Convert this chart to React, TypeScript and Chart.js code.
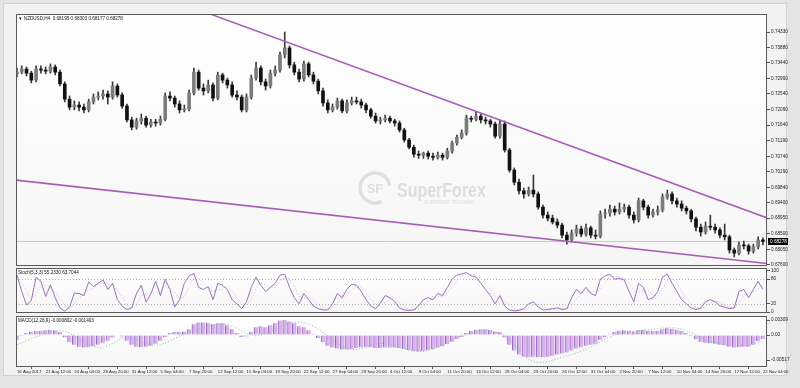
import React, { useEffect, useRef } from 'react';
import { Chart, registerables } from 'chart.js';
Chart.register(...registerables);

const FONT = "'Liberation Sans', Arial, sans-serif";

const symbolTitle = '\u25BC NZDUSD,H4  0.68195 0.68303 0.68177 0.68278';
const stochTitle = 'Stoch(5,3,3) 55.2330 63.7044';
const macdTitle = 'MACD(12,26,9) -0.000802 -0.001403';

const timeLabels = [
  '16 Aug 2017', '21 Aug 12:00', '24 Aug 04:00', '28 Aug 20:00', '31 Aug 12:00', '5 Sep 04:00',
  '7 Sep 20:00', '12 Sep 12:00', '15 Sep 04:00', '19 Sep 20:00', '22 Sep 12:00', '27 Sep 04:00',
  '29 Sep 20:00', '4 Oct 12:00', '9 Oct 04:00', '11 Oct 20:00', '16 Oct 12:00', '19 Oct 04:00',
  '23 Oct 20:00', '26 Oct 12:00', '31 Oct 04:00', '2 Nov 20:00', '7 Nov 12:00', '10 Nov 04:00',
  '14 Nov 20:00', '17 Nov 12:00', '22 Nov 04:00',
];
const labelEvery = 6;

const priceTicks = [
  0.7433, 0.7388, 0.7344, 0.7299, 0.7254, 0.7209, 0.7164, 0.7119,
  0.7074, 0.7029, 0.6984, 0.694, 0.6895, 0.685, 0.6805, 0.676,
];
const lastPrice = 0.68278;

// [open, high, low, close]
const ohlc: [number, number, number, number][] = [
  [0.7312,0.7329,0.7303,0.7317],[0.7317,0.7335,0.7312,0.7326],[0.7326,0.7332,0.7306,0.7314],[0.7314,0.7320,0.7286,0.7294],[0.7294,0.7335,0.7289,0.7326],[0.7326,0.7335,0.7314,0.7323],[0.7323,0.7332,0.7312,0.7320],[0.7320,0.7341,0.7314,0.7332],[0.7332,0.7338,0.7309,0.7317],[0.7317,0.7323,0.7277,0.7283],
  [0.7283,0.7289,0.7231,0.7239],[0.7239,0.7248,0.7208,0.7216],[0.7216,0.7234,0.7208,0.7222],[0.7222,0.7231,0.7205,0.7216],[0.7216,0.7225,0.7199,0.7208],[0.7208,0.7239,0.7202,0.7231],[0.7231,0.7254,0.7225,0.7245],[0.7245,0.7260,0.7237,0.7248],[0.7248,0.7265,0.7239,0.7254],[0.7254,0.7263,0.7225,0.7245],
  [0.7245,0.7289,0.7239,0.7277],[0.7277,0.7283,0.7245,0.7251],[0.7251,0.7257,0.7213,0.7219],[0.7219,0.7225,0.7173,0.7179],[0.7179,0.7187,0.7150,0.7158],[0.7158,0.7184,0.7152,0.7176],[0.7176,0.7196,0.7167,0.7184],[0.7184,0.7190,0.7158,0.7164],[0.7164,0.7181,0.7158,0.7173],[0.7173,0.7181,0.7161,0.7170],
  [0.7170,0.7190,0.7164,0.7181],[0.7181,0.7257,0.7176,0.7248],[0.7248,0.7260,0.7234,0.7242],[0.7242,0.7248,0.7216,0.7225],[0.7225,0.7234,0.7199,0.7208],[0.7208,0.7222,0.7202,0.7210],[0.7210,0.7265,0.7205,0.7257],[0.7257,0.7329,0.7251,0.7317],[0.7317,0.7323,0.7265,0.7271],[0.7271,0.7283,0.7251,0.7263],
  [0.7263,0.7294,0.7257,0.7280],[0.7280,0.7286,0.7234,0.7242],[0.7242,0.7317,0.7237,0.7309],[0.7309,0.7314,0.7286,0.7294],[0.7294,0.7300,0.7271,0.7280],[0.7280,0.7289,0.7245,0.7251],[0.7251,0.7263,0.7237,0.7245],[0.7245,0.7251,0.7202,0.7208],[0.7208,0.7254,0.7202,0.7245],[0.7245,0.7309,0.7239,0.7300],
  [0.7300,0.7346,0.7294,0.7329],[0.7329,0.7335,0.7280,0.7289],[0.7289,0.7297,0.7265,0.7277],[0.7277,0.7323,0.7271,0.7314],[0.7314,0.7335,0.7306,0.7323],[0.7323,0.7375,0.7317,0.7367],[0.7367,0.7433,0.7358,0.7387],[0.7387,0.7393,0.7329,0.7338],[0.7338,0.7346,0.7309,0.7317],[0.7317,0.7326,0.7289,0.7297],
  [0.7297,0.7349,0.7291,0.7341],[0.7341,0.7346,0.7303,0.7309],[0.7309,0.7317,0.7283,0.7291],[0.7291,0.7297,0.7254,0.7263],[0.7263,0.7271,0.7219,0.7228],[0.7228,0.7237,0.7199,0.7208],[0.7208,0.7225,0.7202,0.7216],[0.7216,0.7242,0.7210,0.7234],[0.7234,0.7239,0.7199,0.7205],[0.7205,0.7237,0.7199,0.7228],
  [0.7228,0.7245,0.7222,0.7234],[0.7234,0.7245,0.7225,0.7231],[0.7231,0.7239,0.7213,0.7222],[0.7222,0.7228,0.7199,0.7208],[0.7208,0.7213,0.7184,0.7190],[0.7190,0.7199,0.7170,0.7176],[0.7176,0.7187,0.7167,0.7179],[0.7179,0.7193,0.7173,0.7184],[0.7184,0.7190,0.7170,0.7176],[0.7176,0.7181,0.7161,0.7170],
  [0.7170,0.7176,0.7144,0.7150],[0.7150,0.7155,0.7115,0.7121],[0.7121,0.7126,0.7095,0.7100],[0.7100,0.7106,0.7071,0.7080],[0.7080,0.7089,0.7068,0.7077],[0.7077,0.7086,0.7068,0.7083],[0.7083,0.7089,0.7066,0.7074],[0.7074,0.7083,0.7063,0.7071],[0.7071,0.7086,0.7066,0.7077],[0.7077,0.7083,0.7063,0.7071],
  [0.7071,0.7097,0.7066,0.7089],[0.7089,0.7118,0.7083,0.7112],[0.7112,0.7135,0.7106,0.7129],[0.7129,0.7150,0.7124,0.7141],[0.7141,0.7193,0.7135,0.7184],[0.7184,0.7190,0.7173,0.7181],[0.7181,0.7202,0.7176,0.7190],[0.7190,0.7196,0.7170,0.7179],[0.7179,0.7187,0.7167,0.7176],[0.7176,0.7181,0.7158,0.7167],
  [0.7167,0.7173,0.7126,0.7132],[0.7132,0.7179,0.7126,0.7167],[0.7167,0.7176,0.7086,0.7092],[0.7092,0.7097,0.7028,0.7034],[0.7034,0.7040,0.6991,0.6999],[0.6999,0.7008,0.6965,0.6974],[0.6974,0.6982,0.6953,0.6965],[0.6965,0.6985,0.6959,0.6976],[0.6976,0.7020,0.6956,0.6965],[0.6965,0.6971,0.6921,0.6927],
  [0.6927,0.6933,0.6895,0.6904],[0.6904,0.6913,0.6887,0.6895],[0.6895,0.6904,0.6878,0.6884],[0.6884,0.6893,0.6867,0.6875],[0.6875,0.6881,0.6838,0.6846],[0.6846,0.6855,0.6820,0.6832],[0.6832,0.6861,0.6826,0.6852],[0.6852,0.6875,0.6843,0.6864],[0.6864,0.6872,0.6841,0.6849],[0.6849,0.6878,0.6843,0.6867],
  [0.6867,0.6872,0.6838,0.6846],[0.6846,0.6861,0.6835,0.6843],[0.6843,0.6916,0.6838,0.6907],[0.6907,0.6921,0.6895,0.6910],[0.6910,0.6933,0.6901,0.6921],[0.6921,0.6930,0.6904,0.6913],[0.6913,0.6939,0.6907,0.6921],[0.6921,0.6936,0.6913,0.6927],[0.6927,0.6933,0.6895,0.6904],[0.6904,0.6913,0.6881,0.6890],
  [0.6890,0.6953,0.6884,0.6945],[0.6945,0.6950,0.6919,0.6927],[0.6927,0.6933,0.6895,0.6904],[0.6904,0.6921,0.6898,0.6913],[0.6913,0.6930,0.6904,0.6919],[0.6919,0.6965,0.6913,0.6956],[0.6956,0.6976,0.6950,0.6965],[0.6965,0.6971,0.6936,0.6945],[0.6945,0.6953,0.6927,0.6936],[0.6936,0.6945,0.6916,0.6924],
  [0.6924,0.6930,0.6907,0.6916],[0.6916,0.6921,0.6884,0.6893],[0.6893,0.6898,0.6858,0.6869],[0.6869,0.6878,0.6843,0.6855],[0.6855,0.6884,0.6849,0.6872],[0.6872,0.6904,0.6861,0.6869],[0.6869,0.6878,0.6852,0.6861],[0.6861,0.6867,0.6838,0.6846],[0.6846,0.6878,0.6832,0.6841],[0.6841,0.6846,0.6794,0.6803],
  [0.6803,0.6809,0.6783,0.6794],[0.6794,0.6826,0.6789,0.6817],[0.6817,0.6829,0.6806,0.6815],[0.6815,0.6820,0.6791,0.6800],[0.6800,0.6820,0.6794,0.6812],[0.6812,0.6841,0.6806,0.6832],[0.6832,0.6838,0.6818,0.6828],
];

// trend lines: [bar index, price]
const upperTrend = [{ x: 40, y: 0.7487 }, { x: 157, y: 0.6895 }];
const lowerTrend = [{ x: -0.2, y: 0.7005 }, { x: 156.85, y: 0.6764 }];

const stochMain = [
  90,50,17,28,85,75,38,66,35,10,
  2,12,46,45,40,73,62,70,78,55,
  70,30,14,6,10,45,65,24,44,75,
  40,80,55,12,30,70,88,94,60,55,
  62,30,70,65,55,30,20,8,25,60,
  85,65,50,60,70,90,92,60,35,20,
  45,30,15,8,5,5,20,45,35,55,
  68,65,50,30,15,8,22,40,35,25,
  10,5,4,5,15,30,35,30,45,40,
  60,80,90,93,96,88,85,70,55,40,
  20,40,15,5,3,4,8,20,25,12,
  5,6,8,10,6,8,35,55,45,60,
  45,40,80,88,92,80,82,78,50,25,
  70,60,30,35,50,85,92,70,50,30,
  20,10,6,10,25,30,25,15,12,8,
  10,50,55,35,55,75,55,
];
const stochSignal = [
  80,72,52,32,43,63,66,60,46,37,
  16,8,20,34,44,53,58,68,70,68,
  68,52,38,17,10,20,40,45,44,48,
  53,65,58,49,32,37,63,84,81,70,
  59,49,54,55,63,50,35,19,18,31,
  57,70,67,58,60,73,84,81,62,38,
  33,32,30,18,9,6,10,23,33,45,
  53,63,61,48,32,18,15,23,32,33,
  23,13,6,5,8,17,27,32,37,38,
  48,60,77,88,93,92,90,81,70,55,
  38,33,25,20,8,4,5,11,18,19,
  14,8,6,8,8,8,16,33,45,53,
  50,48,55,70,87,87,85,80,70,51,
  48,52,53,42,38,57,76,82,71,50,
  33,20,12,9,14,22,27,23,17,12,
  10,23,38,47,48,57,64,
];
const stochLevels = [20, 80];
const stochTicks = [100, 80, 20, 0];

const macdHist = [
  -0.0010,-0.0002,0.0004,0.0006,0.0008,0.0009,0.0010,0.0011,0.0010,0.0006,
  -0.0005,-0.0015,-0.0020,-0.0024,-0.0026,-0.0025,-0.0023,-0.0020,-0.0016,-0.0012,
  -0.0005,0.0001,-0.0003,-0.0012,-0.0020,-0.0024,-0.0025,-0.0024,-0.0022,-0.0018,
  -0.0012,-0.0004,0.0004,0.0006,0.0006,0.0007,0.0012,0.0022,0.0026,0.0026,
  0.0025,0.0022,0.0024,0.0024,0.0020,0.0012,0.0004,-0.0004,-0.0003,0.0006,
  0.0016,0.0018,0.0016,0.0020,0.0024,0.0030,0.0031,0.0028,0.0024,0.0018,
  0.0016,0.0010,0.0002,-0.0006,-0.0015,-0.0022,-0.0026,-0.0028,-0.0030,-0.0030,
  -0.0029,-0.0027,-0.0025,-0.0024,-0.0025,-0.0027,-0.0027,-0.0026,-0.0026,-0.0026,
  -0.0027,-0.0029,-0.0031,-0.0033,-0.0034,-0.0033,-0.0031,-0.0029,-0.0026,-0.0023,
  -0.0019,-0.0014,-0.0009,-0.0004,0.0004,0.0008,0.0011,0.0012,0.0012,0.0011,
  0.0007,0.0006,-0.0005,-0.0020,-0.0032,-0.0040,-0.0045,-0.0046,-0.0045,-0.0046,
  -0.0046,-0.0045,-0.0043,-0.0040,-0.0038,-0.0036,-0.0032,-0.0028,-0.0025,-0.0022,
  -0.0020,-0.0018,-0.0010,-0.0004,0.0002,0.0006,0.0009,0.0010,0.0009,0.0007,
  0.0010,0.0011,0.0009,0.0008,0.0009,0.0012,0.0014,0.0013,0.0011,0.0008,
  0.0004,-0.0002,-0.0009,-0.0014,-0.0016,-0.0017,-0.0018,-0.0020,-0.0021,-0.0024,
  -0.0026,-0.0025,-0.0024,-0.0024,-0.0020,-0.0013,-0.0008,
];
const macdSignal = [
  -0.0020,-0.0016,-0.0012,-0.0008,-0.0004,-0.0001,0.0002,0.0005,0.0008,0.0009,
  0.0008,0.0004,-0.0002,-0.0008,-0.0014,-0.0019,-0.0023,-0.0026,-0.0026,-0.0022,
  -0.0017,-0.0011,-0.0006,-0.0004,-0.0006,-0.0010,-0.0014,-0.0018,-0.0020,-0.0021,
  -0.0020,-0.0017,-0.0012,-0.0007,-0.0002,0.0002,0.0005,0.0008,0.0012,0.0016,
  0.0019,0.0021,0.0022,0.0023,0.0022,0.0019,0.0014,0.0008,0.0003,0.0000,
  -0.0002,0.0000,0.0004,0.0008,0.0012,0.0016,0.0020,0.0024,0.0026,0.0027,
  0.0026,0.0023,0.0018,0.0012,0.0005,-0.0002,-0.0010,-0.0017,-0.0023,-0.0028,
  -0.0030,-0.0030,-0.0028,-0.0025,-0.0021,-0.0018,-0.0017,-0.0018,-0.0020,-0.0023,
  -0.0026,-0.0029,-0.0031,-0.0033,-0.0034,-0.0034,-0.0032,-0.0029,-0.0025,-0.0020,
  -0.0015,-0.0010,-0.0006,-0.0002,0.0001,0.0004,0.0006,0.0008,0.0009,0.0008,
  0.0006,0.0003,-0.0001,-0.0008,-0.0018,-0.0030,-0.0042,-0.0050,-0.0055,-0.0057,
  -0.0057,-0.0055,-0.0052,-0.0049,-0.0046,-0.0043,-0.0040,-0.0037,-0.0033,-0.0029,
  -0.0025,-0.0020,-0.0014,-0.0009,-0.0004,0.0000,0.0003,0.0005,0.0007,0.0008,
  0.0009,0.0010,0.0011,0.0012,0.0013,0.0014,0.0015,0.0015,0.0014,0.0012,
  0.0009,0.0005,0.0000,-0.0005,-0.0009,-0.0013,-0.0016,-0.0018,-0.0020,-0.0021,
  -0.0022,-0.0022,-0.0021,-0.0020,-0.0018,-0.0016,-0.0014,
];
const macdTicks = [0.00309, 0, -0.00517];
const macdTickLabels = ['0.00309', '0.00', '-0.00517'];

const X_MIN = -0.2;
const X_MAX = 156.85;
const AXIS_W = 33;
const TICK_FONT = { family: FONT, size: 4.7 };
const X_TICK_FONT = { family: FONT, size: 4.3 };
const TREND_COLOR = '#a95bbb';

const framePlugin = {
  id: 'paneFrame',
  beforeDraw(chart: any) {
    const { ctx, chartArea: a } = chart;
    ctx.save();
    const g = ctx.createLinearGradient(0, a.top, 0, a.bottom);
    g.addColorStop(0, '#ffffff');
    g.addColorStop(1, '#f6f6f6');
    ctx.fillStyle = g;
    ctx.fillRect(a.left, a.top, a.right - a.left, a.bottom - a.top);
    ctx.restore();
  },
  afterDraw(chart: any, _args: any, opts: any) {
    const { ctx, chartArea: a } = chart;
    ctx.save();
    ctx.strokeStyle = '#5a5a5a';
    ctx.lineWidth = 1;
    ctx.strokeRect(Math.round(a.left) + 0.5, Math.round(a.top) + 0.5, Math.round(a.right - a.left) - 1, Math.round(a.bottom - a.top) - 1);
    if (opts && opts.title) {
      ctx.fillStyle = '#111';
      ctx.font = `4.6px ${FONT}`;
      ctx.textBaseline = 'middle';
      ctx.textAlign = 'left';
      ctx.fillText(opts.title, a.left + 2, a.top + 5);
    }
    ctx.restore();
  },
};

const mainExtras = {
  id: 'mainExtras',
  beforeDatasetsDraw(chart: any) {
    const { ctx, chartArea: a, scales } = chart;
    ctx.save();
    // watermark
    ctx.strokeStyle = '#e0e0e0';
    ctx.lineWidth = 3.5;
    ctx.beginPath();
    ctx.arc(375, 188, 15, Math.PI * 0.35, Math.PI * 1.95);
    ctx.stroke();
    ctx.fillStyle = '#dedede';
    ctx.font = `bold 13px ${FONT}`;
    ctx.textAlign = 'center';
    ctx.textBaseline = 'middle';
    ctx.fillText('SF', 375, 189);
    ctx.textAlign = 'left';
    ctx.textBaseline = 'alphabetic';
    ctx.save();
    ctx.translate(397, 197);
    ctx.scale(0.8, 1);
    ctx.font = `bold 20px ${FONT}`;
    ctx.fillText('SuperForex', 0, 0);
    ctx.restore();
    ctx.font = `bold 5px ${FONT}`;
    ctx.fillStyle = '#e2e2e2';
    ctx.fillText('SUPERIOR TRADING', 424, 204);
    // bid line
    const y = Math.round(scales.y.getPixelForValue(lastPrice)) + 0.5;
    ctx.strokeStyle = '#c8c8c8';
    ctx.lineWidth = 1;
    ctx.beginPath();
    ctx.moveTo(a.left, y);
    ctx.lineTo(a.right, y);
    ctx.stroke();
    ctx.restore();
  },
  afterDraw(chart: any) {
    const { ctx, chartArea: a, scales } = chart;
    const y = Math.round(scales.y.getPixelForValue(lastPrice));
    ctx.save();
    ctx.fillStyle = '#000';
    ctx.fillRect(a.right + 1, y - 3, 20, 7);
    ctx.fillStyle = '#fff';
    ctx.font = `4.7px ${FONT}`;
    ctx.textBaseline = 'middle';
    ctx.textAlign = 'left';
    ctx.fillText(lastPrice.toFixed(5), a.right + 3, y + 0.5);
    ctx.restore();
  },
};

const stochExtras = {
  id: 'stochExtras',
  beforeDatasetsDraw(chart: any) {
    const { ctx, chartArea: a, scales } = chart;
    ctx.save();
    ctx.strokeStyle = '#b4b4b4';
    ctx.lineWidth = 1;
    ctx.setLineDash([1, 2]);
    stochLevels.forEach((lv) => {
      const y = Math.round(scales.y.getPixelForValue(lv)) + 0.5;
      ctx.beginPath();
      ctx.moveTo(a.left, y);
      ctx.lineTo(a.right, y);
      ctx.stroke();
    });
    ctx.restore();
  },
};

function yAxis(min: number, max: number, tickValues: number[], labelOf: (v: number, i: number) => string) {
  return {
    type: 'linear',
    position: 'right',
    min,
    max,
    afterFit: (s: any) => {
      s.width = AXIS_W;
      s.paddingTop = 0;
      s.paddingBottom = 0;
    },
    afterBuildTicks: (s: any) => {
      s.ticks = tickValues.map((v) => ({ value: v }));
    },
    border: { display: false },
    grid: { drawOnChartArea: false, drawTicks: true, tickLength: 3, color: '#555' },
    ticks: {
      autoSkip: false,
      padding: 1,
      color: '#222',
      font: TICK_FONT,
      callback: (v: any, i: number) => labelOf(Number(v), i),
    },
  };
}

const hiddenX = { type: 'linear', min: X_MIN, max: X_MAX, display: false, offset: false };

const commonOpts = {
  animation: false,
  responsive: false,
  devicePixelRatio: 1,
  events: [],
};

export default function App() {
  const mainRef = useRef<HTMLCanvasElement>(null);
  const stochRef = useRef<HTMLCanvasElement>(null);
  const macdRef = useRef<HTMLCanvasElement>(null);

  useEffect(() => {
    const charts: Chart[] = [];

    const bodyData = ohlc.map((d, i) => ({ x: i, y: [Math.min(d[0], d[3]), Math.max(d[0], d[3])] }));
    const wickData = ohlc.map((d, i) => ({ x: i, y: [d[2], d[1]] }));
    const bodyColors = ohlc.map((d) => (d[3] >= d[0] ? '#7c7c7c' : '#111111'));

    charts.push(
      new Chart(mainRef.current as HTMLCanvasElement, {
        type: 'bar',
        data: {
          datasets: [
            {
              type: 'line',
              data: upperTrend,
              borderColor: TREND_COLOR,
              borderWidth: 1.6,
              pointRadius: 0,
              order: 0,
            } as any,
            {
              type: 'line',
              data: lowerTrend,
              borderColor: TREND_COLOR,
              borderWidth: 1.6,
              pointRadius: 0,
              order: 0,
            } as any,
            {
              type: 'bar',
              data: bodyData,
              backgroundColor: bodyColors,
              borderWidth: 0,
              barThickness: 3,
              minBarLength: 1,
              grouped: false,
              order: 1,
            } as any,
            {
              type: 'bar',
              data: wickData,
              backgroundColor: '#3a3a3a',
              barThickness: 1,
              grouped: false,
              order: 2,
            } as any,
          ],
        },
        options: {
          ...commonOpts,
          layout: { padding: { left: 16, top: 14, right: 0, bottom: 2 } },
          plugins: {
            legend: { display: false },
            tooltip: { enabled: false },
            paneFrame: { title: symbolTitle },
          },
          scales: {
            x: hiddenX,
            y: yAxis(0.67568, 0.74851, priceTicks, (v) => v.toFixed(5)),
          },
        } as any,
        plugins: [framePlugin, mainExtras],
      })
    );

    charts.push(
      new Chart(stochRef.current as HTMLCanvasElement, {
        type: 'line',
        data: {
          datasets: [
            {
              data: stochMain.map((v, i) => ({ x: i, y: v })),
              borderColor: '#9d6fc4',
              borderWidth: 1,
              pointRadius: 0,
              tension: 0,
            },
            {
              data: stochSignal.map((v, i) => ({ x: i, y: v })),
              borderColor: '#c9b7cf',
              borderWidth: 1,
              borderDash: [1, 2],
              pointRadius: 0,
              tension: 0,
            },
          ],
        },
        options: {
          ...commonOpts,
          layout: { padding: { left: 16, top: 2, right: 0, bottom: 3 } },
          plugins: {
            legend: { display: false },
            tooltip: { enabled: false },
            paneFrame: { title: stochTitle },
          },
          scales: {
            x: hiddenX,
            y: yAxis(-2.4, 107.3, stochTicks, (v) => String(v)),
          },
        } as any,
        plugins: [framePlugin, stochExtras],
      })
    );

    charts.push(
      new Chart(macdRef.current as HTMLCanvasElement, {
        type: 'bar',
        data: {
          datasets: [
            {
              type: 'line',
              data: macdSignal.map((v, i) => ({ x: i, y: v })),
              borderColor: '#72c9a6',
              borderWidth: 1,
              borderDash: [1, 2],
              pointRadius: 0,
              order: 0,
            } as any,
            {
              type: 'bar',
              data: macdHist.map((v, i) => ({ x: i, y: v })),
              backgroundColor: '#d6b2ee',
              borderColor: '#9b63c2',
              borderWidth: { left: 1, right: 0, top: 0, bottom: 0 },
              borderSkipped: false,
              barThickness: 4,
              grouped: false,
              order: 1,
            } as any,
          ],
        },
        options: {
          ...commonOpts,
          layout: { padding: { left: 16, top: 16, right: 0, bottom: 0 } },
          plugins: {
            legend: { display: false },
            tooltip: { enabled: false },
            paneFrame: { title: macdTitle },
          },
          scales: {
            x: {
              type: 'linear',
              min: X_MIN,
              max: X_MAX,
              offset: false,
              position: 'bottom',
              afterFit: (s: any) => {
                s.height = 21;
                s.paddingLeft = 0;
                s.paddingRight = 0;
              },
              afterBuildTicks: (s: any) => {
                s.ticks = timeLabels.map((_, k) => ({ value: k * labelEvery }));
              },
              border: { display: false },
              grid: { drawOnChartArea: false, drawTicks: true, tickLength: 2, color: '#555' },
              ticks: {
                autoSkip: false,
                maxRotation: 0,
                minRotation: 0,
                align: 'start',
                padding: 0,
                color: '#222',
                font: X_TICK_FONT,
                callback: (_v: any, i: number) => timeLabels[i] ?? '',
              },
            },
            y: yAxis(-0.006592, 0.003914, macdTicks, (_v, i) => macdTickLabels[i] ?? ''),
          },
        } as any,
        plugins: [framePlugin],
      })
    );

    return () => charts.forEach((c) => c.destroy());
  }, []);

  return (
    <div style={{ position: 'absolute', left: 0, top: 0, width: 800, height: 388, background: '#e4e4e4', overflow: 'hidden' }}>
      <div
        style={{
          position: 'absolute',
          left: 3,
          top: 3,
          width: 784,
          height: 373,
          background: '#f2f2f2',
          border: '1px solid #d2d2d2',
          boxSizing: 'border-box',
        }}
      />
      <canvas ref={mainRef} width={800} height={268} style={{ position: 'absolute', left: 0, top: 0 }} />
      <canvas ref={stochRef} width={800} height={50} style={{ position: 'absolute', left: 0, top: 266 }} />
      <canvas ref={macdRef} width={800} height={88} style={{ position: 'absolute', left: 0, top: 300 }} />
    </div>
  );
}
